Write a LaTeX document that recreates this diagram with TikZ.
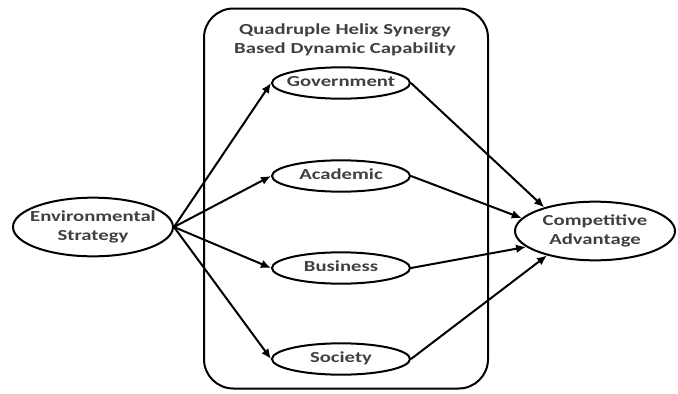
\documentclass[tikz,border=0pt]{standalone}
\usepackage{fontspec}
\setmainfont{Carlito}
\usetikzlibrary{arrows.meta,shapes.geometric}
\definecolor{txt}{HTML}{404040}
% wide label text, centred, with no width of its own
\newcommand{\lbl}[1]{\makebox[0pt]{\scalebox{1.35}[1]{\begin{tabular}{@{}c@{}}#1\end{tabular}}}}
\begin{document}
\begin{tikzpicture}[x=0.75pt,y=-0.75pt,
  font=\fontsize{11.5}{14.3}\selectfont\bfseries,
  outerbox/.style={ellipse,draw,line width=1.5pt,inner sep=0pt,
    minimum width=120pt,minimum height=44pt,text=txt},
  innerbox/.style={ellipse,draw,line width=1.5pt,inner sep=0pt,
    minimum width=103.5pt,minimum height=23.5pt,text=txt},
  link/.style={line width=1.5pt,-{Latex[length=7.5pt,width=6.5pt]}}]
\useasboundingbox (0,0) rectangle (678,393);
% enclosing frame of the dynamic capability
\node (frame) [draw,line width=1.5pt,rounded corners=22pt,minimum width=213pt,
  minimum height=285pt,inner sep=0pt] at (346,198.5) {};
\node (title) [text=txt] at (345,40) {\lbl{Quadruple Helix Synergy\\Based Dynamic Capability}};
% constructs
\node (env) [outerbox] at (93,227) {\lbl{Environmental\\Strategy}};
\node (cmp) [outerbox] at (595,231) {\lbl{Competitive\\Advantage}};
\node (gov) [innerbox] at (341,83) {\lbl{Government}};
\node (aca) [innerbox] at (341,176) {\lbl{Academic}};
\node (bus) [innerbox] at (341,268) {\lbl{Business}};
\node (soc) [innerbox] at (341,359) {\lbl{Society}};
% paths
\draw[link] (env.east) -- (gov.west);
\draw[link] (env.east) -- (aca.west);
\draw[link] (env.east) -- (bus.west);
\draw[link] (env.east) -- (soc.west);
\draw[link] (gov.east) -- (cmp.155);
\draw[link] (aca.east) -- (cmp.170);
\draw[link] (bus.east) -- (cmp.193);
\draw[link] (soc.east) -- (cmp.207);
\end{tikzpicture}
\end{document}
